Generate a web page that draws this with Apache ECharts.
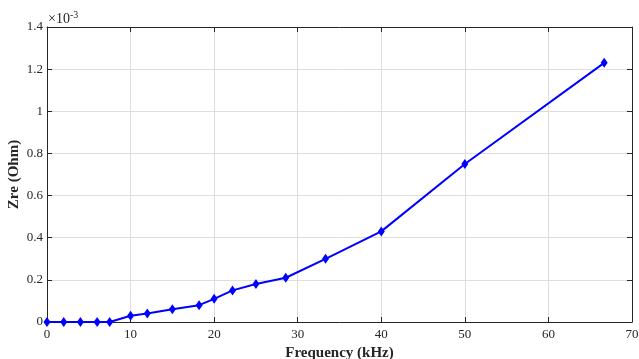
<!DOCTYPE html>
<html>
<head>
<meta charset="utf-8">
<script src="https://cdn.jsdelivr.net/npm/echarts@6/dist/echarts.min.js"></script>
<style>
html,body{margin:0;padding:0;background:#fff;}
#c{width:639px;height:359px;}
</style>
</head>
<body>
<div id="c"></div>
<script>
// Data (Zre in units of 1e-3 Ohm)
var frequency = [0, 2, 4, 6, 7.5, 10, 12, 15, 18.2, 20, 22.2, 25, 28.57, 33.33, 40, 50, 66.67];
var zre = [0, 0, 0, 0, 0, 0.03, 0.04, 0.06, 0.08, 0.11, 0.15, 0.18, 0.21, 0.30, 0.43, 0.75, 1.23];
var xTicks = [0, 10, 20, 30, 40, 50, 60, 70];
var yTicks = [0, 0.2, 0.4, 0.6, 0.8, 1, 1.2, 1.4];

var points = frequency.map(function (f, i) { return [f, zre[i]]; });
var font = '"Liberation Serif", "Times New Roman", serif';
var axisColor = '#262626';
var gridColor = '#dedede';

var chart = echarts.init(document.getElementById('c'), null, {renderer: 'canvas'});
chart.setOption({
  backgroundColor: '#fff',
  animation: false,
  grid: {left: 47, right: 7, top: 27, bottom: 37, containLabel: false, outerBoundsMode: 'none'},
  xAxis: [{
    type: 'value', min: 0, max: 70, interval: 10, position: 'bottom',
    name: 'Frequency (kHz)', nameLocation: 'middle', nameGap: 24, nameMoveOverlap: false,
    nameTextStyle: {fontFamily: font, fontWeight: 'bold', fontSize: 15, color: axisColor},
    axisLine: {show: true, onZero: false, lineStyle: {color: axisColor, width: 1}},
    axisTick: {show: true, inside: true, length: 5, lineStyle: {color: axisColor}},
    axisLabel: {fontFamily: font, fontSize: 13, color: axisColor, margin: 6,
      formatter: function (v) { return xTicks.indexOf(v) >= 0 ? String(v) : ''; }},
    splitLine: {show: true, lineStyle: {color: gridColor, width: 1}}
  }, {
    type: 'value', min: 0, max: 70, interval: 10, position: 'top',
    axisLine: {show: true, onZero: false, lineStyle: {color: axisColor, width: 1}},
    axisTick: {show: true, inside: true, length: 5, lineStyle: {color: axisColor}},
    axisLabel: {show: false}, splitLine: {show: false}
  }],
  yAxis: [{
    type: 'value', min: 0, max: 1.4, interval: 0.2, position: 'left',
    name: 'Zre (Ohm)', nameLocation: 'middle', nameGap: 25, nameRotate: 90, nameMoveOverlap: false,
    nameTextStyle: {fontFamily: font, fontWeight: 'bold', fontSize: 15, color: axisColor},
    axisLine: {show: true, onZero: false, lineStyle: {color: axisColor, width: 1}},
    axisTick: {show: true, inside: true, length: 5, lineStyle: {color: axisColor}},
    axisLabel: {fontFamily: font, fontSize: 13, color: axisColor, margin: 4,
      formatter: function (v) { return String(Math.round(v * 10) / 10); }},
    splitLine: {show: true, lineStyle: {color: gridColor, width: 1}}
  }, {
    type: 'value', min: 0, max: 1.4, interval: 0.2, position: 'right',
    axisLine: {show: true, onZero: false, lineStyle: {color: axisColor, width: 1}},
    axisTick: {show: true, inside: true, length: 5, lineStyle: {color: axisColor}},
    axisLabel: {show: false}, splitLine: {show: false}
  }],
  graphic: [{
    type: 'text', left: 48, top: 10,
    style: {
      rich: {
        b: {fontFamily: font, fontSize: 14, fill: axisColor},
        s: {fontFamily: font, fontSize: 10, fill: axisColor, verticalAlign: 'top', padding: [0, 0, 8, 0]}
      },
      text: '{b|\u00d710}{s|-3}'
    }
  }],
  series: [{
    type: 'line', xAxisIndex: 0, yAxisIndex: 0,
    data: points,
    symbol: 'diamond', symbolSize: [7, 10],
    itemStyle: {color: '#0000ff'},
    lineStyle: {color: '#0000ff', width: 2},
    clip: false
  }]
});
</script>
</body>
</html>
